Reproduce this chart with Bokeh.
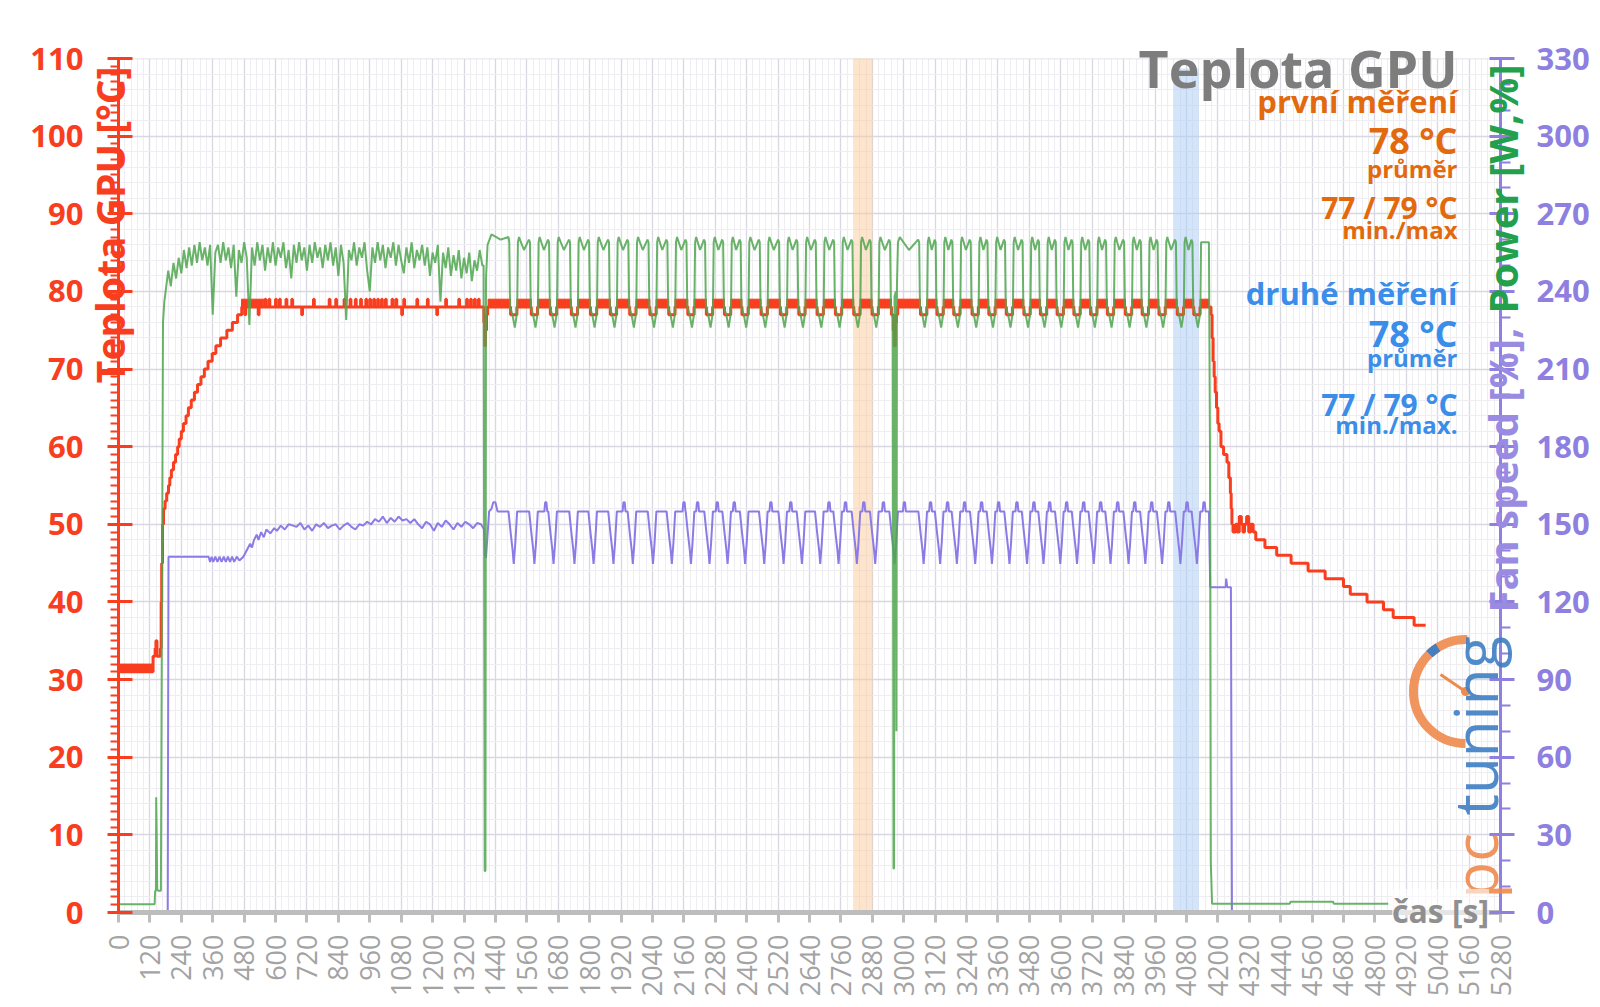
import math
from bokeh.plotting import figure
from bokeh.models import Range1d, LinearAxis, SingleIntervalTicker, Label
from bokeh.embed import file_html
from bokeh.resources import INLINE

# ================= data =================
x_max = 5280            # time axis [s]
x_tick_step = 120
temp_axis_max = 110     # left axis [°C]
right_axis_max = 330    # right axis [%, W]

# ---- GPU temperature [°C] (step trace) ----
temp_warm_t = [0, 132, 140, 143, 147, 160, 163, 165, 168, 172, 178, 184, 191, 196, 202, 210, 218, 226, 232, 240,
               248, 258, 267, 278, 290, 302, 315, 328, 342, 358, 372, 390, 414, 435, 455, 471]
temp_warm_v = [31, 33, 34, 35, 33, 34, 40, 45, 50, 52, 53, 54, 55, 56, 57, 58, 59, 60, 61, 62,
               63, 64, 65, 66, 67, 68, 69, 70, 71, 72, 73, 74, 75, 76, 77, 78]
temp_up_spike_t = [560, 575, 600, 615, 640, 662, 745, 805, 830, 862, 885, 905, 925, 945, 960, 975, 990, 1005,
                   1020, 1045, 1060, 1090, 1140, 1180, 1250, 1300, 1330, 1345, 1360, 1375]
temp_down_spike_t = [483, 534, 700, 1082, 1216]
temp_load_drop_t = [1396, 1399, 1402, 1406, 1410]
temp_load_drop_v = [76, 73, 75, 77, 78]
temp_cycle_low, temp_cycle_mid, temp_cycle_top = 77, 78, 79
temp_2965_t = [2953, 2960, 2964, 2968, 2972, 2977]
temp_2965_v = [77, 75, 73, 76, 77, 78]
temp_cool_t = [4168, 4174, 4178, 4182, 4186, 4190, 4195, 4200, 4205, 4212, 4222, 4235, 4242, 4248, 4251, 4254,
               4258, 4268, 4275, 4282, 4290, 4296, 4302, 4310, 4318, 4326, 4335, 4345, 4362, 4380, 4400, 4425,
               4451, 4480, 4515, 4545, 4579, 4610, 4642, 4680, 4706, 4740, 4770, 4800, 4833, 4870, 4910, 4950, 4994]
temp_cool_v = [78, 77, 74, 71, 69, 67, 65, 63, 62, 60, 59, 58, 56, 54, 52, 50,
               49, 50, 49, 51, 50, 49, 50, 51, 49, 50, 49, 48, 48, 47, 47, 46,
               46, 45, 45, 44, 44, 43, 43, 42, 41, 41, 40, 40, 39, 38, 38, 37, 37]
temp_flicker_t0 = [0, 470]
temp_flicker_t1 = [132, 555]
temp_flicker_lo = [31, 78]
temp_flicker_hi = [32, 79]

# ---- Power [W] ----
power_start_t = [0, 138, 140, 143, 144, 146, 148, 151, 162, 166, 170, 175]
power_start_v = [3.2, 3.2, 8.4, 8.4, 44.5, 30, 9, 8.4, 8.4, 120, 228, 236]
power_noise_t0, power_noise_dt = 180, 10
power_noise_v = [240, 248, 242, 251, 245, 253, 247, 256, 249, 257,
                 250, 258, 251, 259, 252, 257, 250, 258, 231, 255,
                 258, 251, 259, 252, 257, 249, 258, 238, 256, 251,
                 259, 253, 227, 257, 250, 259, 252, 258, 248, 257,
                 251, 259, 250, 257, 253, 259, 249, 256, 245, 258,
                 251, 259, 252, 257, 248, 258, 251, 259, 253, 257,
                 249, 258, 252, 259, 250, 257, 246, 258, 251, 229,
                 256, 252, 259, 250, 257, 253, 259, 248, 240, 257,
                 251, 259, 252, 258, 249, 257, 253, 259, 250, 258,
                 252, 247, 257, 251, 259, 249, 256, 252, 258, 250,
                 257, 246, 255, 251, 258, 236, 255, 249, 257, 246,
                 254, 248, 256, 245, 253, 247, 255, 244, 252, 248,
                 256, 250]
power_load_drop_t = [1395, 1399, 1402, 1404, 1410, 1425, 1460, 1490]
power_load_drop_v = [250, 16, 16, 245, 258, 262, 260, 261]
power_cycle_hi, power_cycle_lo = 259, 230
power_2965_t = [2948, 2951, 2958, 2961, 2963, 2965, 2970, 2972, 2974, 2978]
power_2965_v = [259, 234, 230, 17, 17, 238, 240, 70, 242, 259]
power_end_t = [4166, 4170, 4173, 4178, 4475, 4478, 4640, 4643, 4851]
power_end_v = [259, 180, 20, 3.4, 3.4, 4.2, 4.2, 3.4, 3.4]

# ---- Fan speed (right axis units) ----
fan_start_t = [0, 188, 191, 344, 350, 356, 362, 370, 378, 386, 394, 402, 410, 418, 426, 434, 442, 452, 462, 477,
               490, 503, 510, 518, 528, 535, 545, 555, 565, 580, 595, 605, 620, 635, 650, 667]
fan_start_v = [0, 0, 137.5, 137.5, 135.5, 137.5, 135.5, 137.5, 135.5, 137.5, 135.5, 137.5, 135.5, 137.5, 135.5,
               137.5, 135.5, 137.5, 136, 137.5, 140, 142.5, 141, 144, 146, 144, 147, 145, 148, 146.5, 148.5,
               147.5, 149.5, 148, 150, 149.5]
fan_plateau_t0, fan_plateau_dt = 680, 15
fan_plateau_v = [149, 150.5, 148, 149.5, 147.5, 150, 149, 150.5, 148.5, 149.5, 150, 148, 149.5, 150.5, 149, 148,
                 150, 149.5, 151, 150,
                 152, 151, 153, 150.5, 152.5, 151, 153, 151.5, 152, 150.5, 152,
                 150, 148.5, 151, 150, 147.5, 150.5, 149, 151.5, 150, 148, 150.5, 149, 151, 150, 148.5, 150.5, 150]
fan_load_drop_t = [1397, 1400, 1404, 1410, 1416, 1425, 1432, 1440, 1448, 1470]
fan_load_drop_v = [148, 138, 137, 146, 155, 156, 158.5, 158.5, 155, 155]
fan_cycle_hi, fan_cycle_lo, fan_bump = 155, 134.7, 158.5
fan_bump_t = [1630, 1929, 2158, 2210, 2285, 2350, 2490, 2566, 2712, 2775, 2845, 2920, 3000, 3100, 3165, 3230,
              3295, 3360, 3430, 3495, 3555, 3620, 3685, 3750, 3815, 3880, 3945, 4010, 4080, 4145]
fan_end_t = [4166, 4171, 4230, 4232, 4236, 4250, 4254, 4851]
fan_end_v = [155, 125.7, 125.7, 129, 125.7, 125.7, 0, 0]

# minima of the periodic load cycles (s)
cycle_dip_t = [1510, 1589, 1662, 1742, 1815, 1891, 1965, 2042, 2114, 2187, 2258, 2327, 2394, 2467, 2541, 2611,
               2681, 2751, 2821, 2891, 2965, 3076, 3139, 3203, 3273, 3337, 3404, 3471, 3534, 3598, 3662, 3726,
               3790, 3859, 3923, 3987, 4057, 4120]
special_dip = 2965

# highlighted intervals
mark1_t = (2809, 2881)
mark2_t = (4031, 4127)

# ================= build series =================
temp_pts = list(zip(temp_warm_t, temp_warm_v))
for s in temp_up_spike_t:
    temp_pts += [(s, 79), (s + 3, 78)]
for s in temp_down_spike_t:
    temp_pts += [(s, 77), (s + 3, 78)]
temp_pts += list(zip(temp_load_drop_t, temp_load_drop_v))
for d in cycle_dip_t:
    if d == special_dip:
        temp_pts += list(zip(temp_2965_t, temp_2965_v))
    else:
        temp_pts += [(d - 12, temp_cycle_low), (d + 12, temp_cycle_mid)]
temp_pts += list(zip(temp_cool_t, temp_cool_v))
temp_pts.sort()

band_l = list(temp_flicker_t0) + [1412] + [d + 12 for d in cycle_dip_t]
band_r = list(temp_flicker_t1) + [d - 12 for d in cycle_dip_t] + [4166]
band_b = list(temp_flicker_lo) + [temp_cycle_mid] * (len(cycle_dip_t) + 1)
band_tp = list(temp_flicker_hi) + [temp_cycle_top] * (len(cycle_dip_t) + 1)

power_pts = list(zip(power_start_t, power_start_v))
power_pts += [(power_noise_t0 + i * power_noise_dt, v) for i, v in enumerate(power_noise_v)]
power_pts += list(zip(power_load_drop_t, power_load_drop_v))
for i, d in enumerate(cycle_dip_t):
    if d == special_dip:
        power_pts += list(zip(power_2965_t, power_2965_v))
    else:
        hi, lo = power_cycle_hi, power_cycle_lo
        power_pts += [(d - 17, hi), (d - 14, lo + 4), (d - 5, lo + 1), (d + 4, lo - 4), (d + 10, lo),
                      (d + 13, lo + 2), (d + 16, hi)]
    if i + 1 < len(cycle_dip_t):
        a, b = d + 16, cycle_dip_t[i + 1] - 17
        power_pts += [(a + 4, power_cycle_hi + 2), ((a + b) / 2, power_cycle_hi - 3), (b - 4, power_cycle_hi + 1)]
power_pts += list(zip(power_end_t, power_end_v))
power_pts.sort()

fan_pts = list(zip(fan_start_t, fan_start_v))
fan_pts += [(fan_plateau_t0 + i * fan_plateau_dt, v) for i, v in enumerate(fan_plateau_v)]
fan_pts += list(zip(fan_load_drop_t, fan_load_drop_v))
for d in cycle_dip_t:
    hi, lo = fan_cycle_hi, fan_cycle_lo
    fan_pts += [(d - 20, hi), (d - 12, hi - 8), (d - 4, lo + 5), (d, lo), (d + 6, lo + 8), (d + 13, hi)]
for b in fan_bump_t:
    fan_pts += [(b - 3, fan_cycle_hi), (b, fan_bump), (b + 5, fan_bump), (b + 8, fan_cycle_hi)]
fan_pts += list(zip(fan_end_t, fan_end_v))
fan_pts.sort()

# ================= figure =================
RED = "#F93E1F"
GREEN = "#4FA64F"
PURPLE = "#8B7BE6"
AX_PURPLE = "#8E7FE0"
ORANGE_TXT = "#E2690D"
BLUE_TXT = "#3B8DEA"
GRAY_TXT = "#7D7D7D"
FONT = "Open Sans"

W, H = 1600, 1007
# pixel box of the data area (0..x_max, 0..temp_axis_max)
FL, FR, FT, FB = 118, 1500, 58, 912


def X(px):
    return (px - FL) * x_max / (FR - FL)


def Y(py):
    return (FB - py) * temp_axis_max / (FB - FT)


# the frame covers the whole canvas; axes are pinned to the data box
p = figure(width=W, height=H, x_range=Range1d(X(0), X(W)), y_range=Range1d(Y(H), Y(0)),
           output_backend="svg", toolbar_location=None,
           min_border_left=0, min_border_right=0, min_border_top=0, min_border_bottom=0)
p.extra_y_ranges = {"right": Range1d(Y(H) * right_axis_max / temp_axis_max,
                                     Y(0) * right_axis_max / temp_axis_max)}
p.outline_line_color = None
p.background_fill_color = "white"
p.border_fill_color = "white"

# grid
p.xgrid[0].ticker = SingleIntervalTicker(interval=x_tick_step, num_minor_ticks=5)
p.ygrid[0].ticker = SingleIntervalTicker(interval=10, num_minor_ticks=5)
p.xgrid[0].bounds = (0, x_max)
p.ygrid[0].bounds = (0, temp_axis_max)
for g in (p.xgrid[0], p.ygrid[0]):
    g.grid_line_color = "#D8D8E2"
    g.grid_line_width = 1.3
    g.minor_grid_line_color = "#EDEDF2"
    g.minor_grid_line_width = 1

# x axis
xa = p.xaxis[0]
xa.fixed_location = 0
xa.bounds = (0, x_max)
xa.ticker = SingleIntervalTicker(interval=x_tick_step, num_minor_ticks=5)
xa.axis_line_color = "#BDBDBD"
xa.axis_line_width = 5
xa.major_tick_line_color = "#BDBDBD"
xa.major_tick_line_width = 3
xa.major_tick_in = 0
xa.major_tick_out = 10
xa.minor_tick_line_color = None
xa.major_label_orientation = math.pi / 2
xa.major_label_text_font = FONT
xa.major_label_text_font_size = "27px"
xa.major_label_text_color = "#A3A3A3"
xa.major_label_standoff = 12

# left axis
ya = p.yaxis[0]
ya.fixed_location = 0
ya.bounds = (0, temp_axis_max)
ya.ticker = SingleIntervalTicker(interval=10, num_minor_ticks=10)
ya.axis_line_color = RED
ya.axis_line_width = 3
ya.major_tick_line_color = RED
ya.major_tick_line_width = 3
ya.major_tick_in = 14
ya.major_tick_out = 11
ya.minor_tick_line_color = RED
ya.minor_tick_line_width = 2
ya.minor_tick_in = 0
ya.minor_tick_out = 8
ya.major_label_text_font = FONT
ya.major_label_text_font_style = "bold"
ya.major_label_text_font_size = "31px"
ya.major_label_text_color = RED
ya.major_label_standoff = 24

# right axis
ra = LinearAxis(y_range_name="right", fixed_location=x_max, bounds=(0, right_axis_max),
                ticker=SingleIntervalTicker(interval=30, num_minor_ticks=3))
ra.axis_line_color = AX_PURPLE
ra.axis_line_width = 3
ra.major_tick_line_color = AX_PURPLE
ra.major_tick_line_width = 3
ra.major_tick_in = 11
ra.major_tick_out = 14
ra.minor_tick_line_color = AX_PURPLE
ra.minor_tick_line_width = 2
ra.minor_tick_in = 0
ra.minor_tick_out = 10
ra.major_label_text_font = FONT
ra.major_label_text_font_style = "bold"
ra.major_label_text_font_size = "31px"
ra.major_label_text_color = AX_PURPLE
ra.major_label_standoff = 22
p.add_layout(ra, "right")

# white masks (overlapping, no seams): keep the grid inside the data box
xs0, xs1, ys0, ys1 = X(-20), X(W + 20), Y(H + 20), Y(-20)
p.quad(left=[xs0, xs0, xs0, x_max], right=[xs1, xs1, 0, xs1],
       bottom=[temp_axis_max, ys0, ys0, ys0], top=[ys1, 0, ys1, ys1],
       fill_color="white", line_color=None)

# highlighted intervals
p.quad(left=[mark1_t[0]], right=[mark1_t[1]], bottom=[0], top=[temp_axis_max],
       fill_color="#F9C99C", fill_alpha=0.5, line_color=None)
p.quad(left=[mark2_t[0]], right=[mark2_t[1]], bottom=[0], top=[Y(68)],
       fill_color="#A9CCF5", fill_alpha=0.5, line_color=None)

# series
p.line([t for t, _ in fan_pts], [v for _, v in fan_pts], y_range_name="right",
       line_color=PURPLE, line_width=2)
p.quad(left=band_l, right=band_r, bottom=band_b, top=band_tp, fill_color=RED, line_color=RED, line_width=1)
p.step([t for t, _ in temp_pts], [v for _, v in temp_pts], mode="after", line_color=RED, line_width=3)
p.line([t for t, _ in power_pts], [v for _, v in power_pts], y_range_name="right",
       line_color=GREEN, line_width=2, line_alpha=0.85)

# logo
LOGO_OR = "#EF8A4E"
LOGO_BL = "#3D7DC2"
p.arc(x=[X(1465)], y=[Y(691)], radius=52, radius_units="screen",
      start_angle=math.radians(88), end_angle=math.radians(270), direction="anticlock",
      line_color=LOGO_OR, line_width=9, line_alpha=0.9)
p.arc(x=[X(1465)], y=[Y(691)], radius=52, radius_units="screen",
      start_angle=math.radians(122), end_angle=math.radians(134), direction="anticlock",
      line_color=LOGO_BL, line_width=9, line_alpha=0.95)
p.segment(x0=[X(1440)], y0=[Y(674)], x1=[X(1465)], y1=[Y(691)], line_color=LOGO_OR, line_width=3)
p.scatter(x=[X(1465)], y=[Y(691)], size=9, fill_color=LOGO_OR, line_color=None)


def lab(text, px, py, size, color, **kw):
    opts = dict(text_align="right", text_baseline="alphabetic", text_font=FONT,
                text_font_style="bold", text_font_size=size, text_color=color)
    opts.update(kw)
    p.add_layout(Label(x=X(px), y=Y(py), text=text, **opts))


lab("tuning", 1474, 815, "60px", LOGO_BL, angle=math.pi / 2, text_align="left", text_alpha=0.9,
    text_font_style="normal")
lab("pc", 1474, 898, "60px", LOGO_OR, angle=math.pi / 2, text_align="left", text_alpha=0.9,
    text_font_style="normal")

# title block
lab("Teplota GPU", 1457, 67, "52px", GRAY_TXT)
lab("první měření", 1457, 100, "31px", ORANGE_TXT)
lab("78 °C", 1457, 140, "36px", ORANGE_TXT)
lab("průměr", 1457, 168, "24px", ORANGE_TXT)
lab("77 / 79 °C", 1457, 207, "30px", ORANGE_TXT)
lab("min./max", 1457, 229, "24px", ORANGE_TXT)
lab("druhé měření", 1457, 292, "31px", BLUE_TXT)
lab("78 °C", 1457, 333, "36px", BLUE_TXT)
lab("průměr", 1457, 357, "24px", BLUE_TXT)
lab("77 / 79 °C", 1457, 404, "30px", BLUE_TXT)
lab("min./max.", 1457, 424, "24px", BLUE_TXT)

# axis titles
lab("Teplota GPU [°C]", 109, 66, "39px", RED, angle=math.pi / 2)
lab("Fan speed [%],", 1502, 612, "40px", "#9A8BE2", angle=math.pi / 2, text_align="left")
lab("Power [W,%]", 1502, 64, "40px", "#22A04B", angle=math.pi / 2)
lab("čas [s]", 1440, 910, "32px", "#8F8F8F", text_align="center", text_baseline="middle",
    background_fill_color="white", background_fill_alpha=0.6)

open("out.html", "w").write(file_html(p, INLINE))
